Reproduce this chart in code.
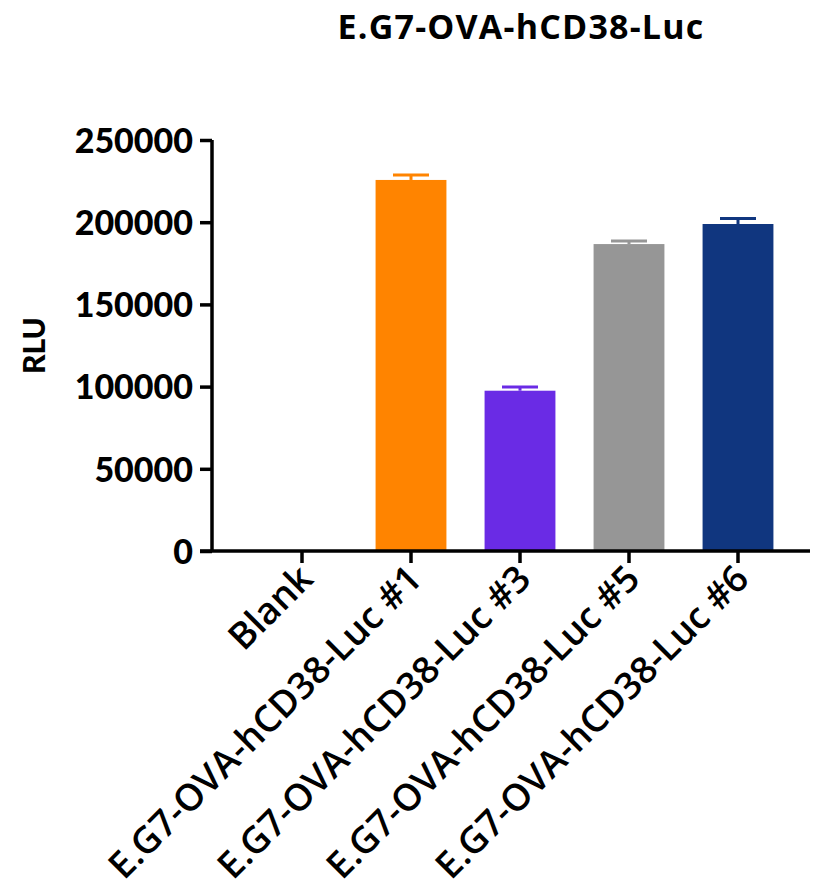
<!DOCTYPE html>
<html>
<head>
<meta charset="utf-8">
<script src="https://cdn.jsdelivr.net/npm/d3@7"></script>
<style>
  body { margin: 0; background: #fff; }
  svg text { fill: #000; }
</style>
</head>
<body>
<div id="chart"></div>
<script>
const categories = [
  "Blank",
  "E.G7-OVA-hCD38-Luc #1",
  "E.G7-OVA-hCD38-Luc #3",
  "E.G7-OVA-hCD38-Luc #5",
  "E.G7-OVA-hCD38-Luc #6"
];
const means = [0, 225700, 97500, 186700, 198900];
const errors = [0, 3000, 2200, 1900, 3300];
const colours = ["#ffffff", "#ff8400", "#6a2be5", "#969696", "#10367f"];
const yTicks = [0, 50000, 100000, 150000, 200000, 250000];

const width = 822,
  height = 895,
  axisX = 212,
  axisY = 551,
  topY = 140;

const svg = d3
  .select("#chart")
  .append("svg")
  .attr("width", width)
  .attr("height", height);

const xScale = d3
  .scaleBand()
  .domain(categories)
  .range([247.5, 792.5])
  .paddingInner(0.35)
  .paddingOuter(0.175);

const yScale = d3
  .scaleLinear()
  .domain([0, 250000])
  .range([axisY, topY]);

// bars
svg
  .append("g")
  .selectAll("rect")
  .data(categories)
  .enter()
  .append("rect")
  .attr("x", d => xScale(d))
  .attr("width", xScale.bandwidth())
  .attr("y", (d, i) => yScale(means[i]))
  .attr("height", (d, i) => yScale(0) - yScale(means[i]))
  .attr("fill", (d, i) => colours[i]);

// error bars (upper half only, like the prism export)
const capW = 36;
const err = svg
  .append("g")
  .selectAll("g")
  .data(categories.filter((d, i) => means[i] > 0))
  .enter()
  .append("g")
  .attr("stroke", d => colours[categories.indexOf(d)])
  .attr("stroke-width", 3);

err
  .append("line")
  .attr("x1", d => xScale(d) + xScale.bandwidth() / 2)
  .attr("x2", d => xScale(d) + xScale.bandwidth() / 2)
  .attr("y1", d => yScale(means[categories.indexOf(d)]))
  .attr("y2", d => {
    const i = categories.indexOf(d);
    return yScale(means[i] + errors[i]);
  });

err
  .append("line")
  .attr("x1", d => xScale(d) + xScale.bandwidth() / 2 - capW / 2)
  .attr("x2", d => xScale(d) + xScale.bandwidth() / 2 + capW / 2)
  .attr("y1", d => {
    const i = categories.indexOf(d);
    return yScale(means[i] + errors[i]);
  })
  .attr("y2", d => {
    const i = categories.indexOf(d);
    return yScale(means[i] + errors[i]);
  });

// y axis
const yAxis = d3
  .axisLeft(yScale)
  .tickValues(yTicks)
  .tickSize(12)
  .tickPadding(7)
  .tickFormat(d3.format("d"));

const yg = svg
  .append("g")
  .attr("transform", `translate(${axisX}, 0)`)
  .call(yAxis);

yg.select(".domain").attr("d", `M0,${topY}V${axisY}`);
yg.selectAll("line, path").attr("stroke", "#000").attr("stroke-width", 3.5);
yg.selectAll("text")
  .style("font-family", "Lato, sans-serif")
  .style("font-weight", "900")
  .style("font-size", "34px")
  .attr("dy", "0.36em");

// x axis
const xAxis = d3
  .axisBottom(xScale)
  .tickSize(12)
  .tickSizeOuter(0)
  .tickFormat("");

const xg = svg
  .append("g")
  .attr("transform", `translate(0, ${axisY})`)
  .call(xAxis);

xg.select(".domain").attr("d", `M${axisX - 12},0H810`);
xg.selectAll("line, path").attr("stroke", "#000").attr("stroke-width", 3.5);

xg.selectAll(".tick")
  .append("text")
  .attr("transform", "translate(13, 30) rotate(-45)")
  .attr("text-anchor", "end")
  .style("font-family", "'Open Sans', sans-serif")
  .style("font-weight", "600")
  .style("font-size", "37px")
  .text(d => d);

// axis title
svg
  .append("text")
  .attr("transform", `translate(45, ${(topY + axisY) / 2}) rotate(-90)`)
  .attr("text-anchor", "middle")
  .style("font-family", "Lato, sans-serif")
  .style("font-weight", "900")
  .style("font-size", "30px")
  .text("RLU");

// chart title
svg
  .append("text")
  .attr("x", 521)
  .attr("y", 39)
  .attr("text-anchor", "middle")
  .style("font-family", "'Open Sans', sans-serif")
  .style("font-weight", "700")
  .style("font-size", "34px")
  .style("letter-spacing", "1.2px")
  .text("E.G7-OVA-hCD38-Luc");
</script>
</body>
</html>
